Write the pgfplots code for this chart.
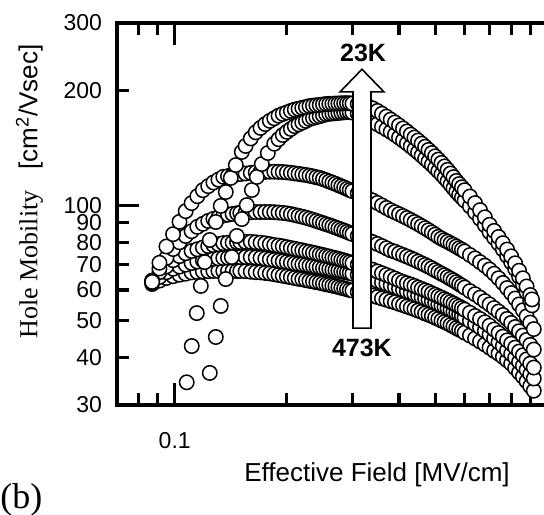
\documentclass[border=0pt]{standalone}
\usepackage{fontspec}
\setmainfont{Liberation Sans}
\newfontfamily\serif{Liberation Serif}
\usepackage{pgfplots}
\pgfplotsset{compat=1.18}
\pgfplotsset{mob/.style={only marks, mark=*, mark size=3.6pt,
  mark options={fill=white, draw=black, line width=0.75pt}}}

\begin{document}
\begin{tikzpicture}
\begin{axis}[
  scale only axis, width=213.5pt, height=191pt,
  xmode=log, ymode=log,
  xmin=0.07, xmax=0.98, ymin=30, ymax=300,
  axis x line*=box, axis y line*=left,
  x axis line style={line width=2pt, line cap=rect},
  y axis line style={line width=2pt, line cap=rect},
  tick align=inside,
  major tick length=6pt,
  tick style={black, line width=1.6pt},
  minor xtick={}, minor ytick={},
  xtick={0.08,0.09,0.2,0.3,0.4,0.5,0.6,0.7,0.8,0.9},
  xticklabels={,,,,,,,,,},
  extra x ticks={0.1}, extra x tick labels={0.1},
  extra x tick style={major tick length=11pt},
  ytick={30,40,50,60,70,80,90,200,300},
  yticklabels={30,40,50,60,70,80,90,200,300},
  extra y ticks={100}, extra y tick labels={100},
  extra y tick style={major tick length=11pt},
  xticklabel style={font=\fontsize{11.5}{13}\selectfont, yshift=-10pt},
  yticklabel style={font=\fontsize{11.5}{13}\selectfont, xshift=-4pt, inner ysep=0pt},
  clip mode=individual,
]
% 473K (bottom)
\addplot[mob] coordinates {(0.087,62.2) (0.091,63.5) (0.095,64.5) (0.099,65.2) (0.103,65.8) (0.107,66.2) (0.111,66.7) (0.115,66.9) (0.119,67.1) (0.123,67.2) (0.127,67.3) (0.131,67.3) (0.135,67.3) (0.139,67.3) (0.143,67.3) (0.147,67.3) (0.150,67.3) (0.155,67.2) (0.160,67.0) (0.165,66.8) (0.170,66.7) (0.175,66.5) (0.180,66.3) (0.185,66.0) (0.190,65.7) (0.195,65.4) (0.200,65.1) (0.205,64.8) (0.210,64.5) (0.215,64.2) (0.220,64.0) (0.225,63.7) (0.230,63.4) (0.235,63.2) (0.240,62.9) (0.245,62.7) (0.250,62.4) (0.255,62.1) (0.260,61.9) (0.265,61.6) (0.270,61.4) (0.275,61.1) (0.280,60.8) (0.285,60.6) (0.290,60.3) (0.295,60.0) (0.300,59.8) (0.31,59.3) (0.32,58.9) (0.33,58.4) (0.34,58.0) (0.35,57.5) (0.36,57.0) (0.37,56.6) (0.38,56.1) (0.39,55.7) (0.40,55.2) (0.41,54.8) (0.42,54.3) (0.43,53.9) (0.44,53.5) (0.45,53.0) (0.46,52.6) (0.47,52.1) (0.48,51.7) (0.49,51.3) (0.50,50.8) (0.51,50.4) (0.52,49.9) (0.53,49.5) (0.54,49.1) (0.55,48.6) (0.56,48.2) (0.57,47.7) (0.58,47.3) (0.59,46.9) (0.60,46.4) (0.62,45.6) (0.64,44.8) (0.66,44.0) (0.68,43.2) (0.70,42.4) (0.72,41.6) (0.74,40.9) (0.76,40.1) (0.78,39.3) (0.80,38.5) (0.82,37.5) (0.84,36.5) (0.86,35.6) (0.88,34.6) (0.90,33.6) (0.92,32.7)};
\addplot[mob] coordinates {(0.087,62.7) (0.091,64.9) (0.095,66.8) (0.099,68.2) (0.103,69.1) (0.107,69.9) (0.111,70.6) (0.115,71.2) (0.119,71.7) (0.123,72.1) (0.127,72.4) (0.131,72.6) (0.135,72.8) (0.139,72.9) (0.143,73.0) (0.147,73.1) (0.150,73.2) (0.155,73.2) (0.160,73.2) (0.165,73.0) (0.170,72.8) (0.175,72.5) (0.180,72.2) (0.185,71.9) (0.190,71.6) (0.195,71.3) (0.200,71.0) (0.205,70.7) (0.210,70.4) (0.215,70.2) (0.220,70.0) (0.225,69.8) (0.230,69.5) (0.235,69.3) (0.240,69.0) (0.245,68.8) (0.250,68.5) (0.255,68.3) (0.260,68.1) (0.265,67.8) (0.270,67.6) (0.275,67.4) (0.280,67.1) (0.285,66.9) (0.290,66.7) (0.295,66.5) (0.300,66.2) (0.31,65.7) (0.32,65.1) (0.33,64.5) (0.34,64.0) (0.35,63.4) (0.36,62.8) (0.37,62.3) (0.38,61.7) (0.39,61.1) (0.40,60.5) (0.41,60.0) (0.42,59.5) (0.43,59.0) (0.44,58.5) (0.45,58.0) (0.46,57.5) (0.47,57.0) (0.48,56.6) (0.49,56.1) (0.50,55.6) (0.51,55.1) (0.52,54.6) (0.53,54.2) (0.54,53.7) (0.55,53.2) (0.56,52.7) (0.57,52.2) (0.58,51.8) (0.59,51.3) (0.60,50.8) (0.62,49.8) (0.64,48.9) (0.66,47.9) (0.68,46.9) (0.70,45.9) (0.72,44.8) (0.74,43.8) (0.76,42.8) (0.78,41.7) (0.80,40.8) (0.82,39.9) (0.84,38.9) (0.86,38.0) (0.88,37.1) (0.90,36.1) (0.92,35.2)};
\addplot[mob] coordinates {(0.087,63.4) (0.091,66.8) (0.095,69.2) (0.099,71.8) (0.103,73.6) (0.107,74.9) (0.111,75.9) (0.115,76.7) (0.119,77.5) (0.123,78.2) (0.127,78.7) (0.131,79.1) (0.135,79.6) (0.139,79.8) (0.143,79.9) (0.147,80.0) (0.150,80.1) (0.155,80.2) (0.160,80.2) (0.165,80.0) (0.170,79.8) (0.175,79.5) (0.180,79.1) (0.185,78.7) (0.190,78.4) (0.195,78.1) (0.200,77.7) (0.205,77.3) (0.210,76.9) (0.215,76.5) (0.220,76.2) (0.225,75.8) (0.230,75.5) (0.235,75.1) (0.240,74.8) (0.245,74.4) (0.250,74.1) (0.255,73.7) (0.260,73.4) (0.265,73.0) (0.270,72.7) (0.275,72.4) (0.280,72.0) (0.285,71.7) (0.290,71.3) (0.295,71.0) (0.300,70.6) (0.31,69.9) (0.32,69.2) (0.33,68.5) (0.34,67.8) (0.35,67.1) (0.36,66.4) (0.37,65.7) (0.38,65.0) (0.39,64.3) (0.40,63.6) (0.41,63.0) (0.42,62.5) (0.43,62.0) (0.44,61.5) (0.45,60.9) (0.46,60.4) (0.47,59.9) (0.48,59.4) (0.49,58.8) (0.50,58.3) (0.51,57.8) (0.52,57.3) (0.53,56.8) (0.54,56.3) (0.55,55.8) (0.56,55.3) (0.57,54.8) (0.58,54.3) (0.59,53.8) (0.60,53.3) (0.62,52.3) (0.64,51.3) (0.66,50.4) (0.68,49.4) (0.70,48.4) (0.72,47.3) (0.74,46.3) (0.76,45.3) (0.78,44.3) (0.80,43.4) (0.82,42.4) (0.84,41.4) (0.86,40.5) (0.88,39.5) (0.90,38.5) (0.92,37.6)};
\addplot[mob] coordinates {(0.087,63.5) (0.091,68.3) (0.095,72.8) (0.099,76.8) (0.103,80.0) (0.107,83.1) (0.111,85.5) (0.115,87.8) (0.119,89.4) (0.123,91.0) (0.127,92.1) (0.131,92.9) (0.135,94.0) (0.139,94.5) (0.143,94.9) (0.147,95.3) (0.150,95.5) (0.155,95.7) (0.160,95.9) (0.165,96.0) (0.170,96.0) (0.175,96.0) (0.180,96.0) (0.185,95.9) (0.190,95.7) (0.195,95.5) (0.200,95.2) (0.205,94.8) (0.210,94.3) (0.215,93.8) (0.220,93.3) (0.225,92.8) (0.230,92.2) (0.235,91.6) (0.240,91.0) (0.245,90.4) (0.250,89.8) (0.255,89.2) (0.260,88.7) (0.265,88.1) (0.270,87.5) (0.275,86.9) (0.280,86.3) (0.285,85.8) (0.290,85.2) (0.295,84.6) (0.300,84.1) (0.31,83.1) (0.32,82.1) (0.33,81.1) (0.34,80.1) (0.35,79.2) (0.36,78.2) (0.37,77.2) (0.38,76.2) (0.39,75.6) (0.40,74.8) (0.41,74.1) (0.42,73.4) (0.43,72.7) (0.44,72.0) (0.45,71.2) (0.46,70.5) (0.47,69.8) (0.48,69.1) (0.49,68.4) (0.50,67.6) (0.51,66.9) (0.52,66.2) (0.53,65.6) (0.54,64.9) (0.55,64.2) (0.56,63.6) (0.57,62.9) (0.58,62.2) (0.59,61.6) (0.60,60.9) (0.62,59.6) (0.64,58.5) (0.66,57.3) (0.68,56.1) (0.70,55.0) (0.72,53.8) (0.74,52.7) (0.76,51.6) (0.78,50.4) (0.80,49.2) (0.82,48.0) (0.84,46.8) (0.86,45.6) (0.88,44.4) (0.90,43.1) (0.92,41.9)};
\addplot[mob] coordinates {(0.087,63.0) (0.091,70.7) (0.095,78.0) (0.099,84.0) (0.103,90.5) (0.107,96.5) (0.111,101.3) (0.115,105.6) (0.119,109.5) (0.123,112.2) (0.127,114.7) (0.131,116.7) (0.135,118.7) (0.139,119.2) (0.143,119.8) (0.147,120.4) (0.150,120.7) (0.155,121.1) (0.160,121.5) (0.165,121.9) (0.170,122.2) (0.175,122.3) (0.180,122.4) (0.185,122.4) (0.190,122.3) (0.195,122.2) (0.200,121.9) (0.205,121.6) (0.210,121.2) (0.215,120.8) (0.220,120.4) (0.225,120.0) (0.230,119.5) (0.235,119.0) (0.240,118.4) (0.245,117.9) (0.250,117.1) (0.255,116.3) (0.260,115.4) (0.265,114.6) (0.270,113.8) (0.275,112.9) (0.280,112.1) (0.285,111.3) (0.290,110.4) (0.295,109.6) (0.300,108.9) (0.31,107.4) (0.32,105.9) (0.33,104.4) (0.34,102.9) (0.35,101.4) (0.36,99.9) (0.37,98.4) (0.38,97.0) (0.39,95.9) (0.40,94.8) (0.41,93.7) (0.42,92.6) (0.43,91.5) (0.44,90.4) (0.45,89.3) (0.46,88.2) (0.47,87.1) (0.48,86.0) (0.49,84.9) (0.50,83.8) (0.51,82.7) (0.52,81.8) (0.53,81.0) (0.54,80.3) (0.55,79.5) (0.56,78.8) (0.57,78.0) (0.58,77.2) (0.59,76.5) (0.60,75.7) (0.62,74.1) (0.64,72.6) (0.66,71.0) (0.68,69.5) (0.70,67.9) (0.72,66.2) (0.74,64.4) (0.76,62.6) (0.78,60.7) (0.80,58.9) (0.82,57.0) (0.84,55.0) (0.86,53.1) (0.88,51.2) (0.90,49.3) (0.92,47.4)};
\addplot[mob] coordinates {(0.1242,36.4) (0.1289,45.2) (0.1329,54.5) (0.1371,64.1) (0.1423,73.2) (0.1468,83.1) (0.1514,92.0) (0.1561,100.1) (0.1611,109.6) (0.1661,118.6) (0.1713,128.2) (0.1778,137.0) (0.185,144.9) (0.190,148.9) (0.195,152.7) (0.200,155.7) (0.205,158.4) (0.210,161.1) (0.215,162.9) (0.220,164.6) (0.225,166.3) (0.230,168.2) (0.235,169.2) (0.240,170.2) (0.245,171.1) (0.250,172.1) (0.255,173.1) (0.260,173.6) (0.265,173.9) (0.270,174.2) (0.275,174.5) (0.280,174.8) (0.285,175.1) (0.290,175.4) (0.295,175.2) (0.300,174.9) (0.31,173.8) (0.32,171.5) (0.33,168.5) (0.34,165.5) (0.35,163.0) (0.36,160.5) (0.37,158.0) (0.38,155.6) (0.39,153.0) (0.40,150.4) (0.41,147.8) (0.42,145.2) (0.43,142.6) (0.44,140.0) (0.45,137.5) (0.46,134.9) (0.47,132.4) (0.48,130.0) (0.49,127.6) (0.50,125.2) (0.51,122.8) (0.52,120.4) (0.53,118.0) (0.54,115.6) (0.55,113.2) (0.56,110.8) (0.57,108.5) (0.58,106.5) (0.59,104.7) (0.60,102.9) (0.62,99.4) (0.64,95.8) (0.66,92.2) (0.68,88.7) (0.70,85.1) (0.72,82.2) (0.74,79.4) (0.76,76.6) (0.78,73.7) (0.80,70.9) (0.82,68.1) (0.84,65.1) (0.86,62.1) (0.88,59.2) (0.90,56.2) (0.91,54.7)};
% 23K (top)
\addplot[mob] coordinates {(0.1077,34.4) (0.1111,42.8) (0.1146,52.2) (0.1175,61.5) (0.1204,71.0) (0.1242,81.1) (0.1289,90.4) (0.1329,99.6) (0.1371,108.3) (0.1414,117.9) (0.1459,127.4) (0.1514,137.9) (0.155,143.0) (0.160,149.6) (0.165,155.2) (0.170,159.4) (0.175,163.1) (0.180,166.3) (0.185,168.9) (0.190,171.6) (0.195,173.4) (0.200,175.0) (0.205,176.6) (0.210,178.0) (0.215,178.9) (0.220,179.9) (0.225,180.8) (0.230,181.8) (0.235,182.3) (0.240,182.7) (0.245,183.1) (0.250,183.6) (0.255,184.1) (0.260,184.3) (0.265,184.4) (0.270,184.6) (0.275,184.7) (0.280,184.9) (0.285,185.0) (0.290,185.0) (0.295,184.9) (0.300,184.6) (0.31,184.2) (0.32,183.0) (0.33,181.5) (0.34,179.3) (0.35,176.6) (0.36,173.6) (0.37,170.6) (0.38,167.6) (0.39,164.7) (0.40,161.8) (0.41,158.9) (0.42,156.0) (0.43,153.1) (0.44,150.4) (0.45,147.7) (0.46,145.0) (0.47,142.3) (0.48,139.6) (0.49,137.0) (0.50,134.3) (0.51,131.7) (0.52,129.1) (0.53,126.4) (0.54,123.8) (0.55,121.1) (0.56,118.5) (0.57,115.8) (0.58,113.6) (0.59,111.5) (0.60,109.5) (0.62,105.4) (0.64,101.3) (0.66,97.1) (0.68,93.0) (0.70,88.9) (0.72,85.7) (0.74,82.6) (0.76,79.6) (0.78,76.6) (0.80,73.5) (0.82,70.5) (0.84,67.4) (0.86,64.4) (0.88,61.3) (0.90,58.2) (0.91,56.7)};
% arrow 473K -> 23K
\draw[line width=0.8pt, fill=white]
  ([xshift=-4.5pt]axis cs:0.3182,47.7) -- ([xshift=-4.5pt]axis cs:0.3182,198)
  -- ([xshift=-11pt]axis cs:0.3182,198) -- (axis cs:0.3182,227)
  -- ([xshift=11pt]axis cs:0.3182,198) -- ([xshift=4.5pt]axis cs:0.3182,198)
  -- ([xshift=4.5pt]axis cs:0.3182,47.7) -- cycle;
\node[font=\bfseries\fontsize{12.5}{14}\selectfont] at (axis cs:0.3203,250) {23K};
\node[font=\bfseries\fontsize{12.5}{14}\selectfont] at (axis cs:0.318,42.3) {473K};
% labels
\node[font=\fontsize{13}{15}\selectfont] at ([yshift=-35pt]rel axis cs:0.609,0) {Effective Field [MV/cm]};
\node[rotate=90, font=\fontsize{13}{15}\selectfont] at ([xshift=-43.75pt]rel axis cs:0,0.559)
  {{\serif Hole Mobility}\hspace{0.8em}[cm\textsuperscript{2}/Vsec]};
\node[anchor=west, inner sep=0pt, font=\serif\fontsize{18}{20}\selectfont] at ([xshift=-58.5pt,yshift=-47.5pt]rel axis cs:0,0) {(b)};
\coordinate (bl) at (rel axis cs:0,0);
\coordinate (tr) at (rel axis cs:1,1);
\end{axis}
\pgfresetboundingbox
\path[use as bounding box] ([shift={(-58.5pt,-54.5pt)}]bl) rectangle ([shift={(0pt,11.5pt)}]tr);
\end{tikzpicture}
\end{document}
